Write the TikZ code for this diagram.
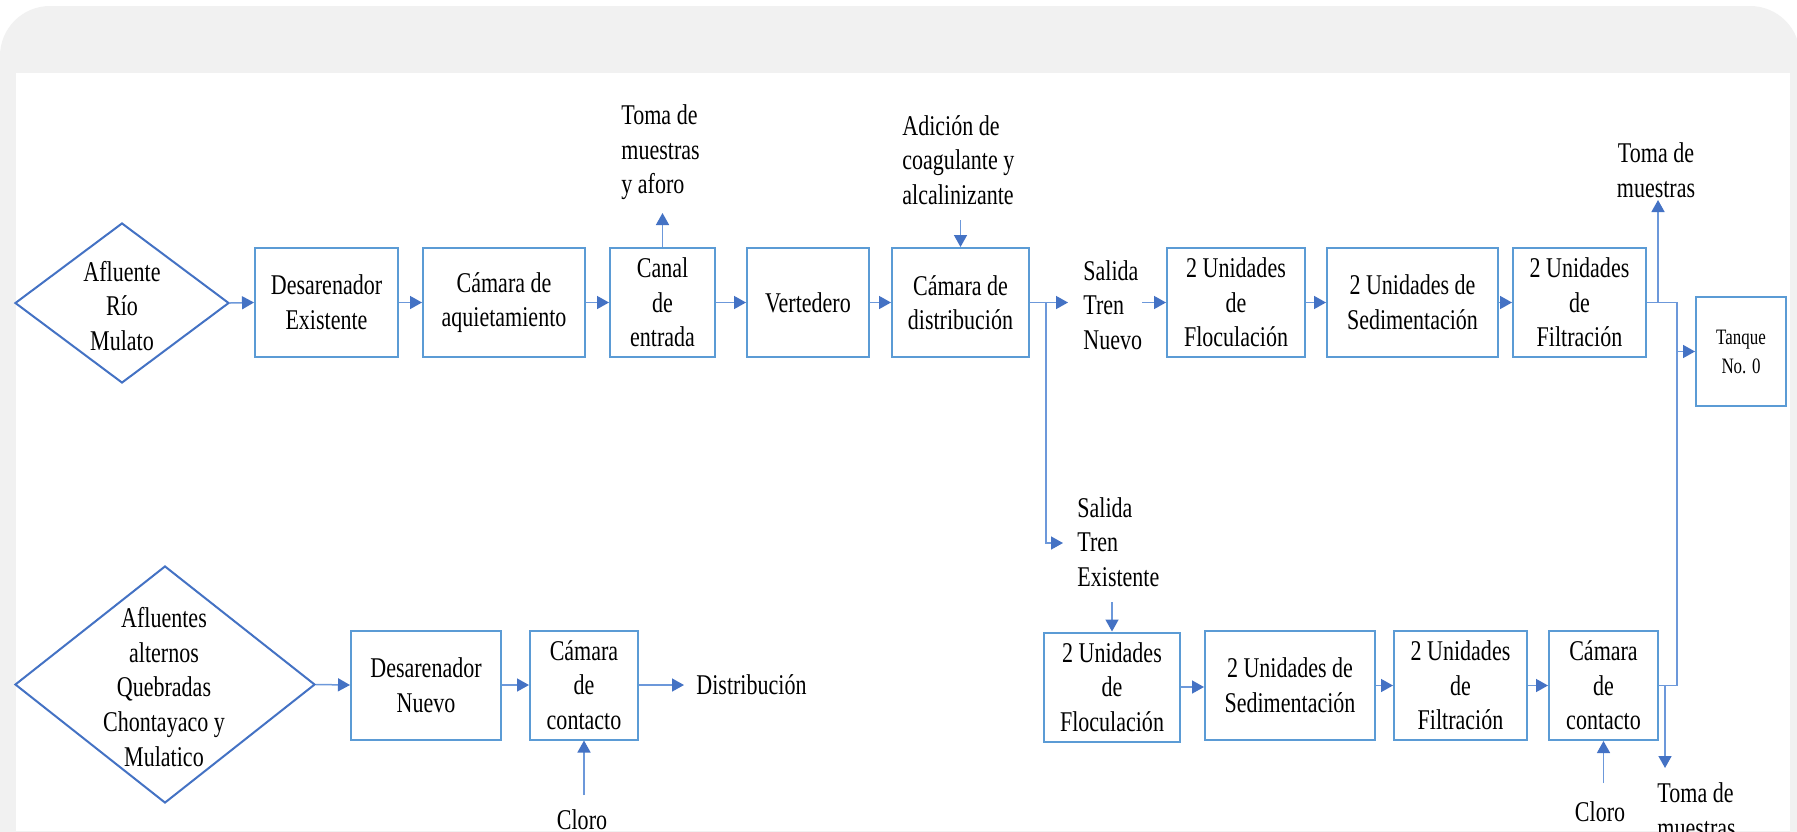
\documentclass[tikz,border=0pt]{standalone}
\usepackage{fontspec}
\setmainfont{Liberation Serif}[FakeStretch=0.77]
\usetikzlibrary{arrows.meta,shapes.geometric}
\definecolor{cardgray}{RGB}{241,241,241}
\definecolor{boxcol}{RGB}{91,155,213}
\definecolor{diacol}{RGB}{68,114,196}
\definecolor{linecol}{RGB}{108,152,218}
\definecolor{headcol}{RGB}{68,114,196}
\begin{document}
\begin{tikzpicture}[x=0.5pt,y=-0.5pt,
  mainfont/.style={font={\fontsize{14.3}{17.3}\selectfont}},
  box/.style={draw=boxcol,line width=1pt,align=center,inner sep=0pt,minimum height=54.5pt,mainfont},
  dia/.style={draw=diacol,line width=1pt,shape=diamond,inner sep=0pt},
  lbl/.style={inner sep=0pt,mainfont},
  conn/.style={draw=linecol,line width=0.75pt},
  arr/.style={conn,-{Triangle[length=6pt,width=6.5pt,color=headcol]}}]
\useasboundingbox (0,0) rectangle (1797,831);
% background card
\fill[white] (0,0) rectangle (1797,831);
\fill[cardgray,rounded corners=25pt] (0,6) rectangle (1800,950);
\fill[white] (16,73) rectangle (1790,831);

% row 1
\node[dia,minimum width=107pt,minimum height=80pt] (d1) at (122,303) {};
\node[lbl,align=center] (d1t) at (122,306) {Afluente\\Río\\Mulato};
\node[box,minimum width=71.5pt] (des1) at (326.5,302.5) {Desarenador\\Existente};
\node[box,minimum width=81pt] (aqu) at (504,302.5) {Cámara de\\aquietamiento};
\node[box,minimum width=52.5pt] (canal) at (662.5,302.5) {Canal\\de\\entrada};
\node[box,minimum width=61pt] (vert) at (808,302.5) {Vertedero};
\node[box,minimum width=68.5pt] (dist) at (960.5,302.5) {Cámara de\\distribución};
\node[box,minimum width=69pt] (floc1) at (1236,302.5) {2 Unidades\\de\\Floculación};
\node[box,minimum width=85.5pt] (sed1) at (1412.5,302.5) {2 Unidades de\\Sedimentación};
\node[box,minimum width=66.5pt] (filt1) at (1579.5,302.5) {2 Unidades\\de\\Filtración};
\node[box,minimum width=45pt,font={\fontsize{11}{14.5}\selectfont}] (tanque) at (1741,351.5) {Tanque\\No. 0};

% labels row 1
\node[lbl,align=left,anchor=west] (tomaA) at (621,152.5) {Toma de\\muestras\\y aforo};
\node[lbl,align=left,anchor=west] (adic) at (902,160) {Adición de\\coagulante y\\alcalinizante};
\node[lbl,align=left,anchor=west] (saln) at (1083,305) {Salida\\Tren\\Nuevo};
\node[lbl,align=left,anchor=west] (sale) at (1077,542) {Salida\\Tren\\Existente};
\node[lbl,align=center] (toma2) at (1656,170) {Toma de\\muestras};

% row 2 right
\node[box,minimum width=68pt] (floc2) at (1112,687) {2 Unidades\\de\\Floculación};
\node[box,minimum width=85pt] (sed2) at (1290,685.5) {2 Unidades de\\Sedimentación};
\node[box,minimum width=66.5pt] (filt2) at (1460.5,685.5) {2 Unidades\\de\\Filtración};
\node[box,minimum width=54.5pt] (cam2) at (1603.5,685.5) {Cámara\\de\\contacto};
\node[lbl] (cloro2) at (1600,812) {Cloro};
\node[lbl,align=left,anchor=west] (toma3) at (1657,810) {Toma de\\muestras};

% row 2 left
\node[dia,minimum width=150pt,minimum height=118.5pt] (d2) at (165,684.5) {};
\node[lbl,align=center] (d2t) at (164,687) {Afluentes\\alternos\\Quebradas\\Chontayaco y\\Mulatico};
\node[box,minimum width=75pt] (desN) at (426,685) {Desarenador\\Nuevo};
\node[box,minimum width=54pt] (camN) at (584,685) {Cámara\\de\\contacto};
\node[lbl,anchor=west] (distrib) at (696,685) {Distribución};
\node[lbl] (cloro1) at (582,820) {Cloro};

% coordinates
\coordinate (tA) at (662.5,213);
\coordinate (adA) at (960.5,220);
\coordinate (snA) at (1068,302.5);
\coordinate (br) at (1046,302.5);
\coordinate (seA) at (1063,543);
\coordinate (snB) at (1142,302.5);
\coordinate (j1) at (1677,302.5);
\coordinate (j2) at (1677,685.5);
\coordinate (tm2s) at (1658,302.5);
\coordinate (tm2e) at (1658,200);
\coordinate (tq) at (1677,351.5);
\coordinate (tm3s) at (1665,685.5);
\coordinate (tm3e) at (1665,768);
\coordinate (seB) at (1112,602);
\coordinate (cl2) at (1603.5,783);
\coordinate (dsA) at (684,685);
\coordinate (cl1) at (584,795);

% connectors row 1
\draw[arr] (d1.east) -- (des1.west);
\draw[arr] (des1) -- (aqu);
\draw[arr] (aqu) -- (canal);
\draw[arr] (canal) -- (vert);
\draw[arr] (vert) -- (dist);
\draw[arr] (canal.north) -- (tA);
\draw[arr] (adA) -- (dist.north);
\draw[arr] (dist.east) -- (snA);
\draw[arr] (br) |- (seA);
\draw[arr] (snB) -- (floc1.west);
\draw[arr] (floc1) -- (sed1);
\draw[arr] (sed1) -- (filt1);
\draw[conn] (filt1.east) -- (j1) -- (j2) -- (cam2.east);
\draw[arr] (tm2s) -- (tm2e);
\draw[arr] (tq) -- (tanque.west);

% connectors row 2 right
\draw[arr] (seB) -- (floc2.north);
\draw[arr] (floc2.east) -- (floc2.east -| sed2.west);
\draw[arr] (sed2) -- (filt2);
\draw[arr] (filt2) -- (cam2);
\draw[arr] (cl2) -- (cam2.south);
\draw[arr] (tm3s) -- (tm3e);

% connectors row 2 left
\draw[arr] (d2.east) -- (desN.west);
\draw[arr] (desN) -- (camN);
\draw[arr] (camN.east) -- (dsA);
\draw[arr] (cl1) -- (camN.south);
\end{tikzpicture}
\end{document}
